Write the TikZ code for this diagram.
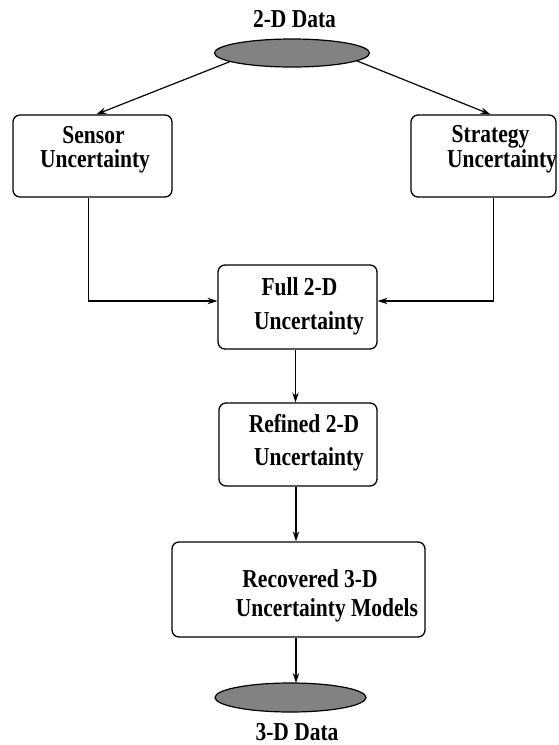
\documentclass[tikz,border=0pt]{standalone}
\usepackage{fontspec}
\usepackage{graphicx}
\setmainfont{Liberation Serif}
\usetikzlibrary{arrows.meta,calc,shapes.geometric}
\definecolor{datagray}{RGB}{130,130,130}
\newcommand{\tallbf}[1]{\scalebox{1}[1.2]{#1}}
\begin{document}
\begin{tikzpicture}[x=1pt,y=-1pt,
  box/.style={draw,line width=1.3pt,rounded corners=7pt,inner sep=0pt},
  lbl/.style={font=\fontsize{21.5}{26}\selectfont\bfseries,anchor=base,inner sep=0pt},
  data/.style={ellipse,draw,line width=1.2pt,fill=datagray,inner sep=0pt},
  conn/.style={line width=1.2pt,-{Stealth[length=10pt,width=6.5pt,inset=3.5pt]}}]
\useasboundingbox (0,0) rectangle (558,745);
% shapes
\node[data,minimum width=155pt,minimum height=28pt] (e1) at (292,53) {};
\node[box,minimum width=159pt,minimum height=82pt] (sensor) at (92.5,156) {};
\node[box,minimum width=145pt,minimum height=82pt] (strategy) at (483.5,156) {};
\node[box,minimum width=159pt,minimum height=84pt] (full) at (297.5,307) {};
\node[box,minimum width=158pt,minimum height=83pt] (refined) at (298,444.5) {};
\node[box,minimum width=253pt,minimum height=95pt] (recovered) at (298.5,589.5) {};
\node[data,minimum width=151pt,minimum height=29pt] (e2) at (290.5,697.5) {};
% texts
\node[lbl] (t2d) at (294.5,27) {\tallbf{2-D Data}};
\node[lbl] (s1) at (93.5,143.5) {\tallbf{Sensor}};
\node[lbl] (s2) at (95,167.5) {\tallbf{Uncertainty}};
\node[lbl] (g1) at (490.5,142) {\tallbf{Strategy}};
\node[lbl] (g2) at (502,167) {\tallbf{Uncertainty}};
\node[lbl] (f1) at (299.5,295) {\tallbf{Full 2-D}};
\node[lbl] (f2) at (309,329) {\tallbf{Uncertainty}};
\node[lbl] (r1) at (304,432) {\tallbf{Refined 2-D}};
\node[lbl] (r2) at (309,465) {\tallbf{Uncertainty}};
\node[lbl] (c1) at (310,587) {\tallbf{Recovered 3-D}};
\node[lbl] (c2) at (327,616) {\tallbf{Uncertainty Models}};
\node[lbl] (t3d) at (297,740) {\tallbf{3-D Data}};
% connectors
\draw[conn] (e1.188) -- ($(sensor.north west)+(84,0)$);
\draw[conn] (e1.353) -- ($(strategy.north west)+(80,0)$);
\draw[conn] ($(sensor.south west)+(76,0)$) |- ($(full.west)+(0,-6)$);
\draw[conn] ($(strategy.south west)+(83,0)$) |- ($(full.east)+(0,-6)$);
\draw[conn] ($(full.south)+(-2,0)$) -- ($(refined.north)+(-2.5,0)$);
\draw[conn] ($(refined.south)+(-2,0)$) -- ($(recovered.north)+(-2.5,0)$);
\draw[conn] ($(recovered.south)+(-2.5,0)$) -- ($(e2.north)+(5.5,0.5)$);
\end{tikzpicture}
\end{document}
